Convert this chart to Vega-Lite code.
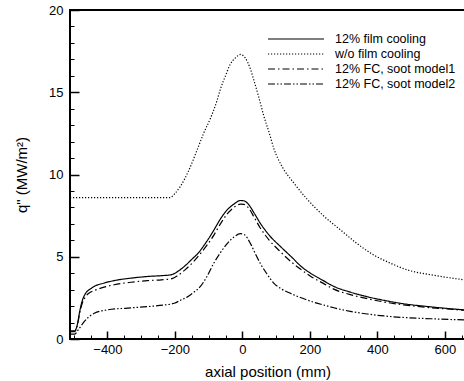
{
  "$schema": "https://vega.github.io/schema/vega-lite/v6.json",
  "width": 395,
  "height": 329,
  "autosize": {"type": "none"},
  "padding": {"left": 70, "top": 10, "right": 0, "bottom": 42},
  "config": {
    "view": {"stroke": "black", "strokeWidth": 2},
    "font": "Liberation Sans",
    "axis": {"grid": false, "domain": false, "labelFont": "Liberation Sans", "titleFont": "Liberation Sans", "labelColor": "black", "titleColor": "black", "tickColor": "black", "titleFontWeight": "normal"}
  },
  "data": {
    "values": [
      {"series": "12% film cooling", "x": -511, "y": 0.5},
      {"series": "12% film cooling", "x": -497, "y": 0.5},
      {"series": "12% film cooling", "x": -489, "y": 0.9},
      {"series": "12% film cooling", "x": -482, "y": 1.7},
      {"series": "12% film cooling", "x": -475, "y": 2.3},
      {"series": "12% film cooling", "x": -464, "y": 2.8},
      {"series": "12% film cooling", "x": -450, "y": 3.05},
      {"series": "12% film cooling", "x": -439, "y": 3.2},
      {"series": "12% film cooling", "x": -410, "y": 3.4},
      {"series": "12% film cooling", "x": -380, "y": 3.55},
      {"series": "12% film cooling", "x": -330, "y": 3.7},
      {"series": "12% film cooling", "x": -281, "y": 3.8},
      {"series": "12% film cooling", "x": -240, "y": 3.85},
      {"series": "12% film cooling", "x": -212, "y": 3.9},
      {"series": "12% film cooling", "x": -192, "y": 4.1},
      {"series": "12% film cooling", "x": -170, "y": 4.45},
      {"series": "12% film cooling", "x": -147, "y": 4.9},
      {"series": "12% film cooling", "x": -134, "y": 5.15},
      {"series": "12% film cooling", "x": -110, "y": 5.8},
      {"series": "12% film cooling", "x": -85, "y": 6.6},
      {"series": "12% film cooling", "x": -65, "y": 7.3},
      {"series": "12% film cooling", "x": -45, "y": 7.85},
      {"series": "12% film cooling", "x": -25, "y": 8.2},
      {"series": "12% film cooling", "x": -6, "y": 8.42},
      {"series": "12% film cooling", "x": 5, "y": 8.4},
      {"series": "12% film cooling", "x": 19, "y": 8.16},
      {"series": "12% film cooling", "x": 35, "y": 7.65},
      {"series": "12% film cooling", "x": 53, "y": 7.04},
      {"series": "12% film cooling", "x": 80, "y": 6.3},
      {"series": "12% film cooling", "x": 113, "y": 5.62},
      {"series": "12% film cooling", "x": 150, "y": 4.9},
      {"series": "12% film cooling", "x": 172, "y": 4.45},
      {"series": "12% film cooling", "x": 202, "y": 4.0},
      {"series": "12% film cooling", "x": 240, "y": 3.55},
      {"series": "12% film cooling", "x": 271, "y": 3.2},
      {"series": "12% film cooling", "x": 320, "y": 2.85},
      {"series": "12% film cooling", "x": 370, "y": 2.57},
      {"series": "12% film cooling", "x": 420, "y": 2.35},
      {"series": "12% film cooling", "x": 469, "y": 2.17},
      {"series": "12% film cooling", "x": 560, "y": 1.95},
      {"series": "12% film cooling", "x": 657, "y": 1.77},

      {"series": "w/o film cooling", "x": -511, "y": 8.6},
      {"series": "w/o film cooling", "x": -214, "y": 8.6},
      {"series": "w/o film cooling", "x": -200, "y": 8.85},
      {"series": "w/o film cooling", "x": -184, "y": 9.27},
      {"series": "w/o film cooling", "x": -160, "y": 10.2},
      {"series": "w/o film cooling", "x": -134, "y": 11.5},
      {"series": "w/o film cooling", "x": -115, "y": 12.5},
      {"series": "w/o film cooling", "x": -95, "y": 13.4},
      {"series": "w/o film cooling", "x": -75, "y": 14.5},
      {"series": "w/o film cooling", "x": -65, "y": 15.2},
      {"series": "w/o film cooling", "x": -50, "y": 16.0},
      {"series": "w/o film cooling", "x": -36, "y": 16.7},
      {"series": "w/o film cooling", "x": -20, "y": 17.1},
      {"series": "w/o film cooling", "x": -5, "y": 17.3},
      {"series": "w/o film cooling", "x": 8, "y": 17.1},
      {"series": "w/o film cooling", "x": 24, "y": 16.4},
      {"series": "w/o film cooling", "x": 36, "y": 15.6},
      {"series": "w/o film cooling", "x": 48, "y": 14.75},
      {"series": "w/o film cooling", "x": 63, "y": 13.6},
      {"series": "w/o film cooling", "x": 80, "y": 12.5},
      {"series": "w/o film cooling", "x": 93, "y": 11.6},
      {"series": "w/o film cooling", "x": 120, "y": 10.4},
      {"series": "w/o film cooling", "x": 150, "y": 9.55},
      {"series": "w/o film cooling", "x": 192, "y": 8.5},
      {"series": "w/o film cooling", "x": 240, "y": 7.5},
      {"series": "w/o film cooling", "x": 291, "y": 6.63},
      {"series": "w/o film cooling", "x": 340, "y": 5.8},
      {"series": "w/o film cooling", "x": 390, "y": 5.1},
      {"series": "w/o film cooling", "x": 440, "y": 4.6},
      {"series": "w/o film cooling", "x": 489, "y": 4.2},
      {"series": "w/o film cooling", "x": 560, "y": 3.9},
      {"series": "w/o film cooling", "x": 657, "y": 3.6},

      {"series": "12% FC, soot model1", "x": -511, "y": 0.45},
      {"series": "12% FC, soot model1", "x": -497, "y": 0.45},
      {"series": "12% FC, soot model1", "x": -489, "y": 0.85},
      {"series": "12% FC, soot model1", "x": -482, "y": 1.6},
      {"series": "12% FC, soot model1", "x": -475, "y": 2.15},
      {"series": "12% FC, soot model1", "x": -464, "y": 2.6},
      {"series": "12% FC, soot model1", "x": -450, "y": 2.85},
      {"series": "12% FC, soot model1", "x": -439, "y": 2.95},
      {"series": "12% FC, soot model1", "x": -410, "y": 3.15},
      {"series": "12% FC, soot model1", "x": -380, "y": 3.3},
      {"series": "12% FC, soot model1", "x": -330, "y": 3.45},
      {"series": "12% FC, soot model1", "x": -281, "y": 3.55},
      {"series": "12% FC, soot model1", "x": -240, "y": 3.6},
      {"series": "12% FC, soot model1", "x": -212, "y": 3.65},
      {"series": "12% FC, soot model1", "x": -192, "y": 3.85},
      {"series": "12% FC, soot model1", "x": -170, "y": 4.2},
      {"series": "12% FC, soot model1", "x": -147, "y": 4.65},
      {"series": "12% FC, soot model1", "x": -120, "y": 5.3},
      {"series": "12% FC, soot model1", "x": -85, "y": 6.3},
      {"series": "12% FC, soot model1", "x": -65, "y": 7.0},
      {"series": "12% FC, soot model1", "x": -45, "y": 7.6},
      {"series": "12% FC, soot model1", "x": -25, "y": 8.0},
      {"series": "12% FC, soot model1", "x": -6, "y": 8.2},
      {"series": "12% FC, soot model1", "x": 5, "y": 8.18},
      {"series": "12% FC, soot model1", "x": 19, "y": 7.95},
      {"series": "12% FC, soot model1", "x": 35, "y": 7.4},
      {"series": "12% FC, soot model1", "x": 53, "y": 6.75},
      {"series": "12% FC, soot model1", "x": 80, "y": 6.0},
      {"series": "12% FC, soot model1", "x": 113, "y": 5.3},
      {"series": "12% FC, soot model1", "x": 150, "y": 4.6},
      {"series": "12% FC, soot model1", "x": 172, "y": 4.25},
      {"series": "12% FC, soot model1", "x": 202, "y": 3.82},
      {"series": "12% FC, soot model1", "x": 240, "y": 3.38},
      {"series": "12% FC, soot model1", "x": 271, "y": 3.03},
      {"series": "12% FC, soot model1", "x": 320, "y": 2.7},
      {"series": "12% FC, soot model1", "x": 370, "y": 2.45},
      {"series": "12% FC, soot model1", "x": 420, "y": 2.25},
      {"series": "12% FC, soot model1", "x": 469, "y": 2.1},
      {"series": "12% FC, soot model1", "x": 560, "y": 1.9},
      {"series": "12% FC, soot model1", "x": 657, "y": 1.75},

      {"series": "12% FC, soot model2", "x": -511, "y": 0.3},
      {"series": "12% FC, soot model2", "x": -497, "y": 0.3},
      {"series": "12% FC, soot model2", "x": -485, "y": 0.6},
      {"series": "12% FC, soot model2", "x": -469, "y": 1.05},
      {"series": "12% FC, soot model2", "x": -455, "y": 1.35},
      {"series": "12% FC, soot model2", "x": -439, "y": 1.56},
      {"series": "12% FC, soot model2", "x": -400, "y": 1.77},
      {"series": "12% FC, soot model2", "x": -340, "y": 1.88},
      {"series": "12% FC, soot model2", "x": -281, "y": 1.97},
      {"series": "12% FC, soot model2", "x": -230, "y": 2.07},
      {"series": "12% FC, soot model2", "x": -202, "y": 2.17},
      {"series": "12% FC, soot model2", "x": -184, "y": 2.35},
      {"series": "12% FC, soot model2", "x": -160, "y": 2.6},
      {"series": "12% FC, soot model2", "x": -147, "y": 2.8},
      {"series": "12% FC, soot model2", "x": -125, "y": 3.18},
      {"series": "12% FC, soot model2", "x": -105, "y": 3.8},
      {"series": "12% FC, soot model2", "x": -85, "y": 4.6},
      {"series": "12% FC, soot model2", "x": -65, "y": 5.25},
      {"series": "12% FC, soot model2", "x": -45, "y": 5.8},
      {"series": "12% FC, soot model2", "x": -25, "y": 6.2},
      {"series": "12% FC, soot model2", "x": -6, "y": 6.4},
      {"series": "12% FC, soot model2", "x": 5, "y": 6.35},
      {"series": "12% FC, soot model2", "x": 24, "y": 5.8},
      {"series": "12% FC, soot model2", "x": 38, "y": 5.2},
      {"series": "12% FC, soot model2", "x": 53, "y": 4.6},
      {"series": "12% FC, soot model2", "x": 73, "y": 3.95},
      {"series": "12% FC, soot model2", "x": 93, "y": 3.4},
      {"series": "12% FC, soot model2", "x": 115, "y": 3.05},
      {"series": "12% FC, soot model2", "x": 142, "y": 2.78},
      {"series": "12% FC, soot model2", "x": 172, "y": 2.52},
      {"series": "12% FC, soot model2", "x": 202, "y": 2.3},
      {"series": "12% FC, soot model2", "x": 240, "y": 2.07},
      {"series": "12% FC, soot model2", "x": 271, "y": 1.9},
      {"series": "12% FC, soot model2", "x": 320, "y": 1.68},
      {"series": "12% FC, soot model2", "x": 370, "y": 1.52},
      {"series": "12% FC, soot model2", "x": 420, "y": 1.4},
      {"series": "12% FC, soot model2", "x": 469, "y": 1.32},
      {"series": "12% FC, soot model2", "x": 560, "y": 1.23},
      {"series": "12% FC, soot model2", "x": 657, "y": 1.16}
    ]
  },
  "layer": [
    {
      "mark": {"type": "line", "color": "black", "strokeWidth": 1.2, "clip": true, "interpolate": "monotone"},
      "encoding": {
        "x": {
          "field": "x", "type": "quantitative",
          "scale": {"domain": [-511, 660], "nice": false, "zero": false},
          "axis": {"orient": "bottom", "title": "axial position (mm)", "values": [-400, -200, 0, 200, 400, 600], "tickSize": -8, "tickWidth": 1.5, "labelPadding": 12, "labelFontSize": 13, "titleFontSize": 15, "titlePadding": 8, "labelFlush": false}
        },
        "y": {
          "field": "y", "type": "quantitative",
          "scale": {"domain": [0, 20], "nice": false},
          "axis": {"orient": "left", "title": "q\" (MW/m²)", "values": [0, 5, 10, 15, 20], "tickSize": -9, "tickWidth": 1.5, "labelPadding": 16, "labelFontSize": 13, "titleFontSize": 15, "titlePadding": 19, "labelFlush": false}
        },
        "strokeDash": {
          "field": "series", "type": "nominal",
          "scale": {
            "domain": ["12% film cooling", "w/o film cooling", "12% FC, soot model1", "12% FC, soot model2"],
            "range": [[1, 0], [1.2, 1.8], [7, 3, 1.5, 3], [7, 2, 1.5, 2, 1.5, 2]]
          },
          "legend": {
            "orient": "none", "legendX": 218, "legendY": 21, "title": null,
            "symbolType": "M-4,0H4", "symbolSize": 196, "symbolStrokeWidth": 1.2, "symbolStrokeColor": "black",
            "labelFont": "Liberation Sans", "labelFontSize": 12.5, "labelColor": "black", "labelOffset": 31, "rowPadding": 0, "padding": 0
          }
        }
      }
    },
    {
      "mark": {"type": "point", "opacity": 0},
      "encoding": {
        "x": {
          "field": "x", "type": "quantitative",
          "scale": {"domain": [-511, 660], "nice": false, "zero": false},
          "axis": {"orient": "bottom", "title": null, "labels": false, "values": [-500, -450, -350, -300, -250, -150, -100, -50, 50, 100, 150, 250, 300, 350, 450, 500, 550, 650], "tickSize": -4, "tickWidth": 1}
        },
        "y": {
          "field": "y", "type": "quantitative",
          "scale": {"domain": [0, 20], "nice": false},
          "axis": {"orient": "left", "title": null, "labels": false, "values": [1, 2, 3, 4, 6, 7, 8, 9, 11, 12, 13, 14, 16, 17, 18, 19], "tickSize": -4, "tickWidth": 1}
        },
        "detail": {"field": "series", "type": "nominal"}
      }
    }
  ],
  "resolve": {"axis": {"x": "independent", "y": "independent"}}
}
